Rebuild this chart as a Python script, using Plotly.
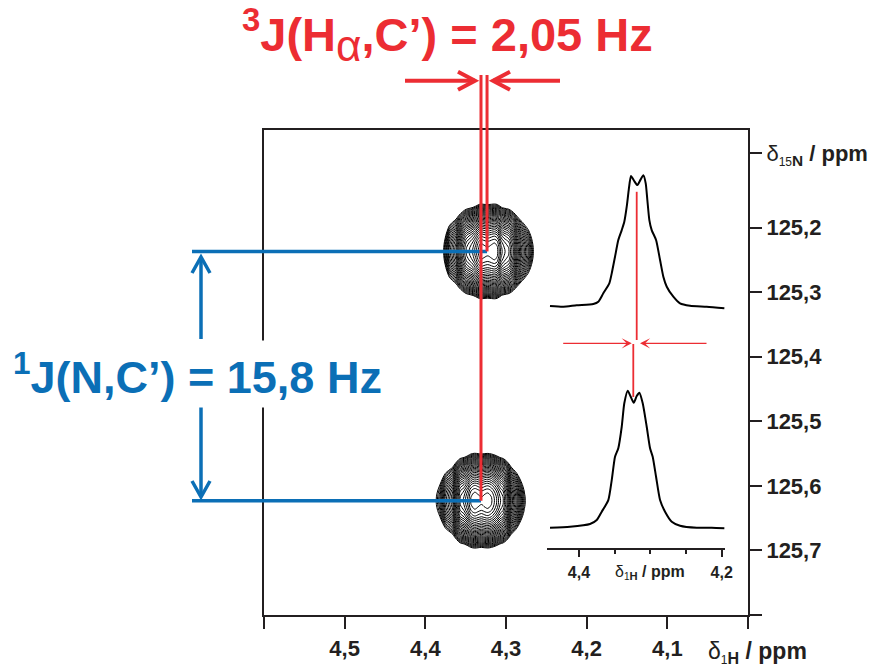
import math
import plotly.graph_objects as go

INK = "#231F20"
RED = "#EC2D33"
BLUE = "#0B6FB6"
FONT = "Liberation Sans, Arial, sans-serif"

# 1H slices through the two cross peaks (chemical shift in ppm, normalised intensity)
upper_slice_ppm = [4.4406, 4.4219, 4.4032, 4.3799, 4.3729, 4.3659, 4.3575, 4.3541,
                   4.3495, 4.3449, 4.3401, 4.3365, 4.3331, 4.3303, 4.3271, 4.3229,
                   4.3182, 4.3135, 4.3098, 4.3065, 4.3042, 4.3014, 4.2981, 4.2920,
                   4.2864, 4.2818, 4.2770, 4.2678, 4.2584, 4.2444, 4.2210, 4.1963]
upper_slice_int = [0.008, 0.002, 0.013, 0.023, 0.040, 0.104, 0.179, 0.255,
                   0.381, 0.508, 0.583, 0.646, 0.760, 0.886, 0.992, 0.957,
                   0.924, 0.967, 0.998, 0.937, 0.811, 0.659, 0.583, 0.508,
                   0.356, 0.230, 0.154, 0.078, 0.028, 0.010, 0.002, -0.010]
lower_slice_ppm = [4.4406, 4.4126, 4.3845, 4.3751, 4.3681, 4.3589, 4.3541, 4.3495,
                   4.3449, 4.3401, 4.3365, 4.3317, 4.3275, 4.3233, 4.3191, 4.3154,
                   4.3107, 4.3051, 4.3004, 4.2967, 4.2920, 4.2864, 4.2794, 4.2700,
                   4.2584, 4.2350, 4.2140, 4.1963]
lower_slice_int = [0.000, 0.007, 0.027, 0.056, 0.117, 0.202, 0.348, 0.518,
                   0.580, 0.737, 0.908, 1.000, 0.956, 0.912, 0.961, 0.985,
                   0.908, 0.737, 0.580, 0.518, 0.372, 0.202, 0.117, 0.044,
                   0.015, 0.000, 0.000, -0.004]

# centre of each slice (marked in red in the inset)
slice_centre = [4.3191, 4.3239]

# 15N line shape of the cross peaks (offset from centre in ppm, relative intensity)
n_offset = [-0.12, -0.09, -0.075, -0.065, -0.055, -0.045, -0.035, -0.025, -0.015, -0.006, 0.0,
            0.006, 0.015, 0.025, 0.035, 0.045, 0.055, 0.065, 0.075, 0.09, 0.12]
n_shape = [0.0, 0.008, 0.035, 0.081, 0.165, 0.30, 0.48, 0.69, 0.875, 0.98, 1.0,
           0.98, 0.875, 0.69, 0.48, 0.30, 0.165, 0.081, 0.035, 0.008, 0.0]

# cross-peak positions: (1H, 15N) in ppm
peak_h = [4.3235, 4.3310]
peak_n = [125.237, 125.623]

x_ticks = [4.6, 4.5, 4.4, 4.3, 4.2, 4.1, 4.0]
x_labels = ["", "4,5", "4,4", "4,3", "4,2", "4,1", ""]
y_ticks = [125.085, 125.2, 125.3, 125.4, 125.5, 125.6, 125.7, 125.8]
y_labels = ['δ<sub><span style="font-size:12px">15</span><b>N</b></sub><b> / ppm</b>',
            "<b>125,2</b>", "<b>125,3</b>", "<b>125,4</b>", "<b>125,5</b>",
            "<b>125,6</b>", "<b>125,7</b>", ""]
inset_ticks = [4.4, 4.2]
inset_labels = ["<b>4,4</b>", "<b>4,2</b>"]
inset_minor = [4.35, 4.3, 4.25]

W, H = 887, 666
L, R, T, B = 264, 139, 130, 51
PW, PH = W - L - R, H - T - B


def px(x):
    return (x - L) / PW


def py(y):
    return (H - B - y) / PH


def arrow(x0, y0, x1, y1, color, width, head_len, head_half):
    """Straight arrow with an open chevron head, given in figure pixels."""
    dx, dy = x1 - x0, y1 - y0
    n = (dx * dx + dy * dy) ** 0.5
    ux, uy = dx / n, dy / n
    ax, ay = x1 - ux * head_len - uy * head_half, y1 - uy * head_len + ux * head_half
    bx, by = x1 - ux * head_len + uy * head_half, y1 - uy * head_len - ux * head_half
    shaft = dict(type="line", xref="paper", yref="paper",
                 x0=px(x0), y0=py(y0), x1=px(x1), y1=py(y1),
                 line=dict(color=color, width=width))
    head = dict(type="path", xref="paper", yref="paper",
                path=f"M{px(ax)},{py(ay)} L{px(x1)},{py(y1)} L{px(bx)},{py(by)}",
                line=dict(color=color, width=width))
    return [shaft, head]


fig = go.Figure()

# 2D cross peaks drawn as contour plots with logarithmically spaced levels
slices = [(upper_slice_ppm, upper_slice_int), (lower_slice_ppm, lower_slice_int)]
for k, (sp, si) in enumerate(slices):
    gx = [p + peak_h[k] - slice_centre[k] for p in sp]
    gy = [peak_n[k] + d for d in n_offset]
    gz = [[math.log10(max(nv * hv, 1e-3)) for hv in si] for nv in n_shape]
    fig.add_trace(go.Contour(
        x=gx, y=gy, z=gz, autocontour=False,
        contours=dict(start=math.log10(0.04), end=math.log10(0.97), size=0.05,
                      coloring="lines"),
        colorscale=[[0, "black"], [1, "black"]],
        line=dict(width=1.0, smoothing=1.0),
        showscale=False, hoverinfo="skip", xaxis="x", yaxis="y"))

# inset: the two 1H slices
fig.add_trace(go.Scatter(x=upper_slice_ppm, y=upper_slice_int, mode="lines",
                         line=dict(color="black", width=2, shape="spline", smoothing=0.6),
                         xaxis="x2", yaxis="y2", hoverinfo="skip"))
fig.add_trace(go.Scatter(x=lower_slice_ppm, y=lower_slice_int, mode="lines",
                         line=dict(color="black", width=2, shape="spline", smoothing=0.6),
                         xaxis="x2", yaxis="y3", hoverinfo="skip"))
fig.add_trace(go.Scatter(x=[slice_centre[0], slice_centre[0]], y=[0.873, -0.273], mode="lines",
                         line=dict(color=RED, width=1.8), xaxis="x2", yaxis="y2",
                         hoverinfo="skip"))
fig.add_trace(go.Scatter(x=[slice_centre[1], slice_centre[1]], y=[1.341, 0.954], mode="lines",
                         line=dict(color=RED, width=1.8), xaxis="x2", yaxis="y3",
                         hoverinfo="skip"))

shapes = []
# 15N coupling: blue guides from the peaks to the left
for k in range(2):
    shapes.append(dict(type="line", xref="paper", yref="y", x0=px(192), x1=0,
                       y0=peak_n[k], y1=peak_n[k], line=dict(color=BLUE, width=3.5)))
    shapes.append(dict(type="line", xref="x", yref="y", x0=4.6, x1=peak_h[k],
                       y0=peak_n[k], y1=peak_n[k], line=dict(color=BLUE, width=3.5)))
shapes += arrow(201, 339, 201, 257, BLUE, 3.5, 16, 9)
shapes += arrow(201, 407, 201, 497, BLUE, 3.5, 16, 9)

# 1H coupling: red guides from the peaks to the top
for k in range(2):
    shapes.append(dict(type="line", xref="x", yref="paper", x0=peak_h[k], x1=peak_h[k],
                       y0=1.0, y1=py(75), line=dict(color=RED, width=3)))
    shapes.append(dict(type="line", xref="x", yref="y", x0=peak_h[k], x1=peak_h[k],
                       y0=125.049, y1=peak_n[k], line=dict(color=RED, width=3)))
shapes += arrow(405, 80.7, 475, 80.7, RED, 4, 17, 9)
shapes += arrow(560, 80.7, 493, 80.7, RED, 4, 17, 9)

annotations = [
    dict(text='<b><sup>3</sup>J(H</b><sub><span style="font-size:44px">α</span></sub>'
              '<b>,C’) = 2,05 Hz</b>',
         xref="paper", yref="paper", x=px(447.5), y=py(35), showarrow=False,
         xanchor="center", yanchor="middle", font=dict(size=47, color=RED, family=FONT)),
    dict(text='<b><sup>1</sup>J(N,C’) = 15,8 Hz</b>',
         xref="paper", yref="paper", x=px(197.5), y=py(374), showarrow=False,
         xanchor="center", yanchor="middle", bgcolor="white", borderpad=4,
         font=dict(size=45, color=BLUE, family=FONT)),
    dict(text='δ<sub><span style="font-size:12px">1</span><b>H</b></sub><b> / ppm</b>',
         xref="paper", yref="paper", x=px(706), y=py(652), showarrow=False,
         xanchor="left", yanchor="middle", font=dict(size=23, color=INK, family=FONT)),
    dict(text='δ<sub><span style="font-size:10px">1</span><b>H</b></sub><b> / ppm</b>',
         xref="x2", yref="paper", x=4.3, y=py(572), showarrow=False,
         xanchor="center", yanchor="middle", font=dict(size=16, color=INK, family=FONT)),
]
# inset arrows pointing at the slice centres
for tail, tip in [(4.4242, 4.326), (4.2192, 4.3145)]:
    annotations.append(dict(text="", xref="x2", yref="y2", axref="x2", ayref="y2",
                            x=tip, y=-0.275, ax=tail, ay=-0.275, showarrow=True,
                            arrowhead=3, arrowsize=1.3, arrowwidth=1.3, arrowcolor=RED))

axis_common = dict(showline=True, linewidth=2, linecolor=INK, mirror=True, ticks="outside",
                   ticklen=12, tickwidth=2, tickcolor=INK, showgrid=False, zeroline=False,
                   automargin=False)

fig.update_layout(
    width=W, height=H, margin=dict(l=L, r=R, t=T, b=B, autoexpand=False),
    paper_bgcolor="white", plot_bgcolor="white", showlegend=False,
    font=dict(family=FONT, color=INK),
    xaxis=dict(range=[4.6, 4.0], tickvals=x_ticks, ticktext=x_labels, ticklabelstandoff=1,
               tickfont=dict(size=22, weight="bold", color=INK), **axis_common),
    yaxis=dict(range=[125.8, 125.049], side="right", tickvals=y_ticks, ticktext=y_labels,
               tickfont=dict(size=22, color=INK), **axis_common),
    xaxis2=dict(domain=[px(547), px(725)], range=[4.4448, 4.1954], anchor="y3",
                showline=True, linewidth=2, linecolor=INK, ticks="outside", ticklen=7,
                tickwidth=2, tickcolor=INK, showgrid=False, zeroline=False, automargin=False,
                tickvals=inset_ticks, ticktext=inset_labels, ticklabelstandoff=1,
                tickfont=dict(size=16, color=INK),
                minor=dict(tickvals=inset_minor, ticks="outside", ticklen=4,
                           tickwidth=2, tickcolor=INK, showgrid=False)),
    yaxis2=dict(domain=[py(380), py(165)], range=[-0.553, 1.076], anchor="x2",
                visible=False, automargin=False),
    yaxis3=dict(domain=[py(548.3), py(340)], range=[-0.150, 1.370], anchor="x2",
                visible=False, automargin=False),
    shapes=shapes, annotations=annotations,
)

fig.write_html("out.html")
